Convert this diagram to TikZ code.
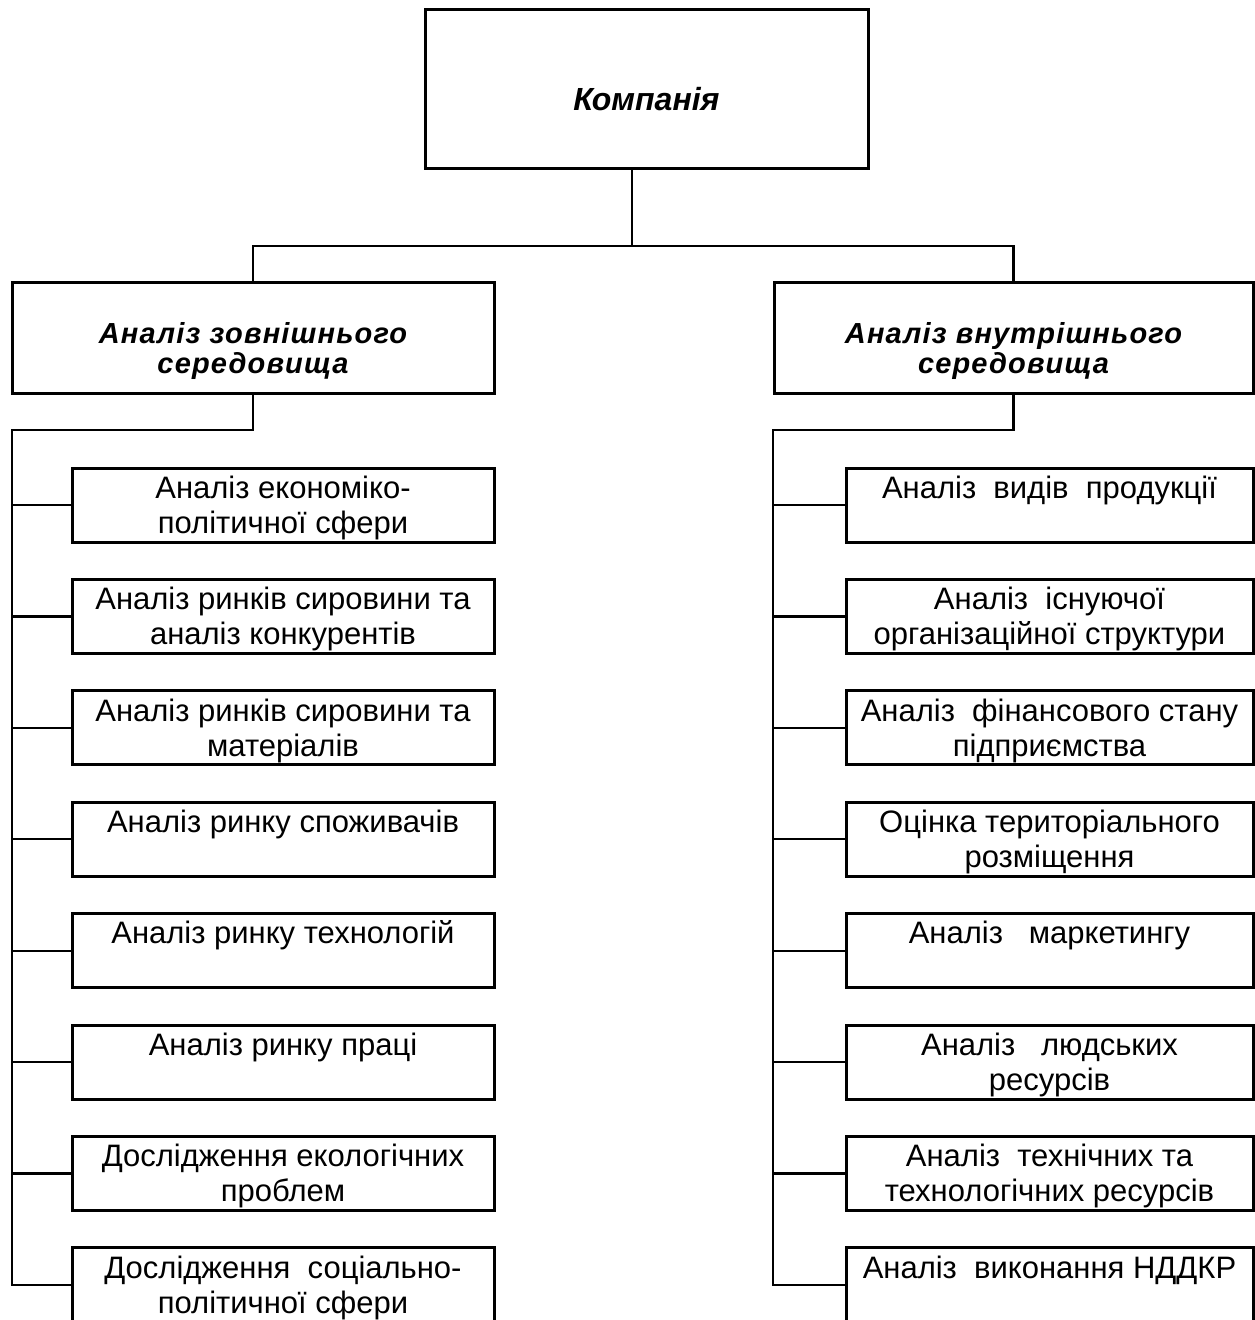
\documentclass[tikz,border=0pt]{standalone}
\usepackage{fontspec}
\setmainfont{Liberation Sans}
\newfontfamily\hdrfont[LetterSpace=4]{Liberation Sans}
\newcommand\sbA{\rule{0pt}{29.5pt}}
\newcommand\sbB{\rule[-8pt]{0pt}{8pt}}
\begin{document}
\begin{tikzpicture}[x=1pt,y=-1pt,
  box/.style={draw, line width=3pt, inner sep=0pt, outer sep=0pt, align=center, anchor=north west},
  smallbox/.style={box, minimum height=74pt, font=\fontsize{31}{35}\selectfont},
  lbox/.style={smallbox, minimum width=422pt},
  rbox/.style={smallbox, minimum width=407pt},
  bigbox/.style={box, minimum height=111pt, font=\hdrfont\bfseries\itshape\fontsize{29}{30}\selectfont},
  conn/.style={line width=2.2pt, line cap=rect},
  trunk/.style={line width=2.8pt, line cap=rect}]
\useasboundingbox (0,0) rectangle (1255,1320);
\fill[white] (0,0) rectangle (1255,1320);
\clip (0,0) rectangle (1255,1320);

\node[box, minimum width=443pt, minimum height=159pt,
  font=\bfseries\itshape\fontsize{32}{36}\selectfont] (top) at (425,9.5)
  {\rule{0pt}{49pt}Компанія\rule[-7pt]{0pt}{7pt}};

\node[bigbox, minimum width=482pt] (ext) at (12,282)
  {\rule{0pt}{48pt}Аналіз зовнішнього\\середовища\rule[-7pt]{0pt}{7pt}};
\node[bigbox, minimum width=479pt] (int) at (774,282)
  {\rule{0pt}{48pt}Аналіз внутрішнього\\середовища\rule[-7pt]{0pt}{7pt}};

% left column
\node[lbox] (l1) at (72,468)    {\sbA Аналіз економіко-\\політичної сфери\sbB};
\node[lbox] (l2) at (72,579.4)  {\sbA Аналіз ринків сировини та\\аналіз конкурентів\sbB};
\node[lbox] (l3) at (72,690.8)  {\sbA Аналіз ринків сировини та\\матеріалів\sbB};
\node[lbox] (l4) at (72,802.2)  {\sbA Аналіз ринку споживачів\\\sbB};
\node[lbox] (l5) at (72,913.6)  {\sbA Аналіз ринку технологій\\\sbB};
\node[lbox] (l6) at (72,1025)   {\sbA Аналіз ринку праці\\\sbB};
\node[lbox] (l7) at (72,1136.4) {\sbA Дослідження екологічних\\проблем\sbB};
\node[lbox] (l8) at (72,1247.8) {\sbA Дослідження\ \ соціально-\\політичної сфери\sbB};

% right column
\node[rbox] (r1) at (846,468)    {\sbA Аналіз\ \ видів\ \ продукції\\\sbB};
\node[rbox] (r2) at (846,579.4)  {\sbA Аналіз\ \ існуючої\\організаційної структури\sbB};
\node[rbox] (r3) at (846,690.8)  {\sbA Аналіз\ \ фінансового стану\\підприємства\sbB};
\node[rbox] (r4) at (846,802.2)  {\sbA Оцінка територіального\\розміщення\sbB};
\node[rbox] (r5) at (846,913.6)  {\sbA Аналіз\ \ \ маркетингу\\\sbB};
\node[rbox] (r6) at (846,1025)   {\sbA Аналіз\ \ \ людських\\ресурсів\sbB};
\node[rbox] (r7) at (846,1136.4) {\sbA Аналіз\ \ технічних та\\технологічних ресурсів\sbB};
\node[rbox] (r8) at (846,1247.8) {\sbA Аналіз\ \ виконання НДДКР\\\sbB};

% connectors
\coordinate (j0) at (632,246);
\draw[conn] (top.south -| j0) -- (j0);
\draw[conn] (ext.north) -- (ext.north |- j0) -- (int.north |- j0) -- (int.north);

\coordinate (lt) at (12,430);
\coordinate (rt) at (773,430);
\draw[conn] (ext.south) |- (lt);
\draw[conn] (int.south) |- (rt);
\draw[trunk] (lt) -- (lt |- l8.west);
\draw[trunk] (rt) -- (rt |- r8.west);
\foreach \i in {1,...,8} {
  \draw[conn] (l\i.west -| lt) -- (l\i.west);
  \draw[conn] (r\i.west -| rt) -- (r\i.west);
}
\end{tikzpicture}
\end{document}
